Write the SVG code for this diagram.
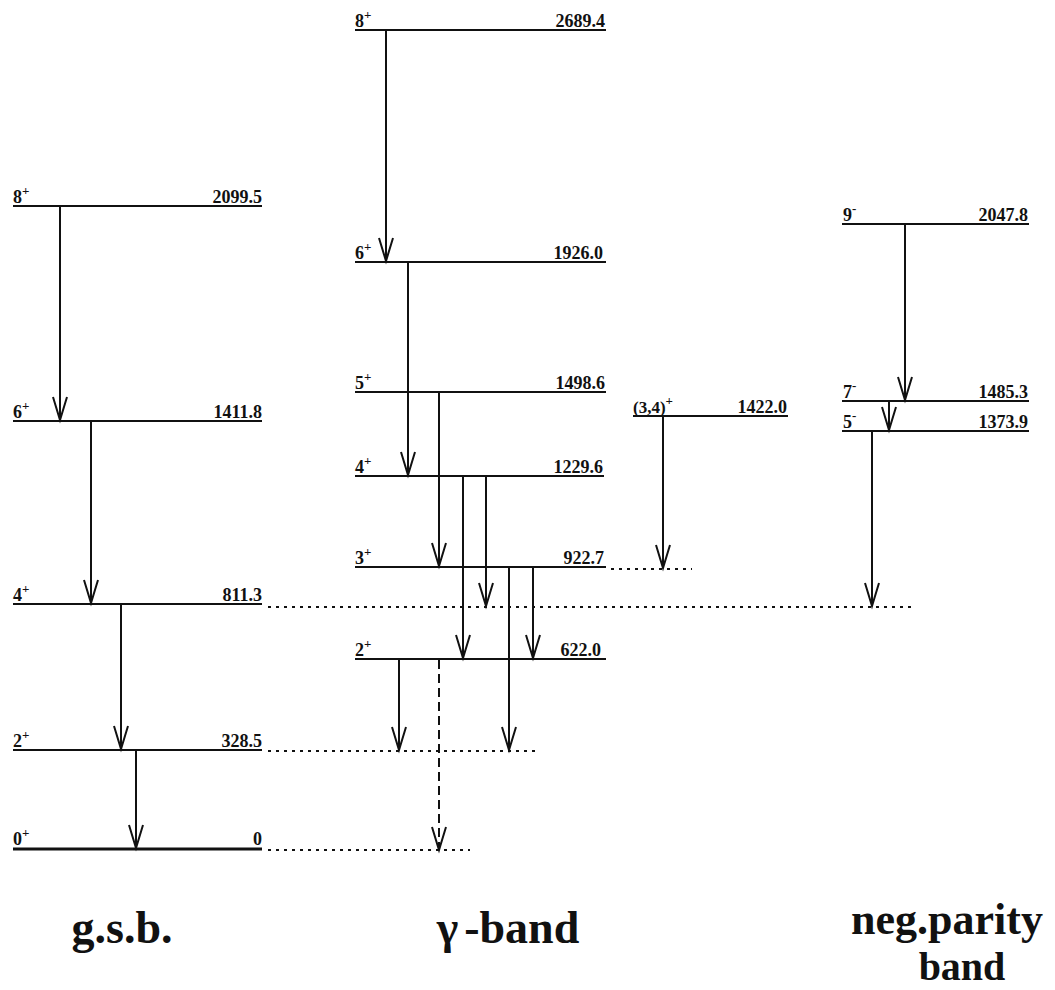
<svg xmlns="http://www.w3.org/2000/svg" width="1055" height="990" viewBox="0 0 1055 990">
<style>
.lvl{stroke:#111;stroke-width:2;fill:none}
.g0{stroke:#111;stroke-width:3;fill:none}
.dot{stroke:#111;stroke-width:2;stroke-dasharray:3 5;fill:none}
.arr{stroke:#111;stroke-width:2;fill:none;marker-end:url(#ah)}
.dash{stroke:#111;stroke-width:2;stroke-dasharray:9 5;fill:none;marker-end:url(#ah)}
text{font-family:"Liberation Serif","Times New Roman",serif;font-weight:bold;fill:#111}
.j{font-size:18px}
.e{font-size:18px;text-anchor:end}
.sup{font-size:13px}
.band{font-size:46px;text-anchor:middle}
</style>
<defs>
<marker id="ah" markerUnits="userSpaceOnUse" markerWidth="20" markerHeight="30" viewBox="-10 -26 20 28" refX="0" refY="0" orient="auto" overflow="visible">
<path d="M-7,-23 L0,0 L7,-23" fill="none" stroke="#111" stroke-width="2" transform="rotate(-90)"/>
</marker>
</defs>
<rect width="1055" height="990" fill="#fff"/>
<g id="gsb">
<g id="gsb8"><line class="lvl" x1="13" y1="206" x2="262" y2="206"/><text class="j" x="13" y="203">8<tspan class="sup" dy="-8">+</tspan></text><text class="e" x="262" y="203">2099.5</text></g>
<g id="gsb6"><line class="lvl" x1="13" y1="421" x2="262" y2="421"/><text class="j" x="13" y="418">6<tspan class="sup" dy="-8">+</tspan></text><text class="e" x="262" y="418">1411.8</text></g>
<g id="gsb4"><line class="lvl" x1="13" y1="604" x2="262" y2="604"/><text class="j" x="13" y="601">4<tspan class="sup" dy="-8">+</tspan></text><text class="e" x="262" y="601">811.3</text></g>
<g id="gsb2"><line class="lvl" x1="13" y1="750" x2="262" y2="750"/><text class="j" x="13" y="747">2<tspan class="sup" dy="-8">+</tspan></text><text class="e" x="262" y="747">328.5</text></g>
<g id="gsb0"><line class="g0" x1="13" y1="849" x2="262" y2="849"/><text class="j" x="13" y="845">0<tspan class="sup" dy="-8">+</tspan></text><text class="e" x="262" y="845">0</text></g>
</g>
<g id="gamma">
<g id="g8"><line class="lvl" x1="355" y1="30" x2="606" y2="30"/><text class="j" x="355" y="27">8<tspan class="sup" dy="-8">+</tspan></text><text class="e" x="605" y="27">2689.4</text></g>
<g id="g6"><line class="lvl" x1="355" y1="262" x2="606" y2="262"/><text class="j" x="355" y="259">6<tspan class="sup" dy="-8">+</tspan></text><text class="e" x="603" y="259">1926.0</text></g>
<g id="g5"><line class="lvl" x1="355" y1="392" x2="606" y2="392"/><text class="j" x="355" y="389">5<tspan class="sup" dy="-8">+</tspan></text><text class="e" x="605" y="389">1498.6</text></g>
<g id="g4"><line class="lvl" x1="355" y1="476" x2="604" y2="476"/><text class="j" x="355" y="473">4<tspan class="sup" dy="-8">+</tspan></text><text class="e" x="603" y="473">1229.6</text></g>
<g id="g3"><line class="lvl" x1="355" y1="567" x2="606" y2="567"/><text class="j" x="355" y="564">3<tspan class="sup" dy="-8">+</tspan></text><text class="e" x="604" y="564">922.7</text></g>
<g id="g2"><line class="lvl" x1="355" y1="659" x2="606" y2="659"/><text class="j" x="355" y="656">2<tspan class="sup" dy="-8">+</tspan></text><text class="e" x="601" y="656">622.0</text></g>
</g>
<g id="side34"><line class="lvl" x1="633" y1="416" x2="788" y2="416"/><text class="j" x="633" y="413" style="font-size:17px">(3,4)<tspan class="sup" dy="-8">+</tspan></text><text class="e" x="787" y="413">1422.0</text></g>
<g id="neg">
<g id="n9"><line class="lvl" x1="842" y1="224" x2="1029" y2="224"/><text class="j" x="843" y="221">9<tspan class="sup" dy="-8">-</tspan></text><text class="e" x="1028" y="221">2047.8</text></g>
<g id="n7"><line class="lvl" x1="842" y1="401" x2="1029" y2="401"/><text class="j" x="843" y="398">7<tspan class="sup" dy="-8">-</tspan></text><text class="e" x="1028" y="398">1485.3</text></g>
<g id="n5"><line class="lvl" x1="842" y1="431" x2="1029" y2="431"/><text class="j" x="843" y="428">5<tspan class="sup" dy="-8">-</tspan></text><text class="e" x="1028" y="428">1373.9</text></g>
</g>
<g id="connectors">
<line class="dot" x1="268" y1="607" x2="915" y2="607"/>
<line class="dot" x1="268" y1="751" x2="540" y2="751"/>
<line class="dot" x1="268" y1="850" x2="470" y2="850"/>
<line class="dot" x1="611" y1="569" x2="692" y2="569"/>
<line class="arr" x1="60" y1="206" x2="60" y2="420"/>
<line class="arr" x1="91" y1="421" x2="91" y2="603"/>
<line class="arr" x1="121" y1="604" x2="121" y2="749"/>
<line class="arr" x1="136" y1="750" x2="136" y2="848"/>
<line class="arr" x1="386" y1="30" x2="386" y2="261"/>
<line class="arr" x1="408" y1="262" x2="408" y2="475"/>
<line class="arr" x1="439" y1="392" x2="439" y2="566"/>
<line class="arr" x1="463" y1="476" x2="463" y2="658"/>
<line class="arr" x1="486" y1="476" x2="486" y2="606"/>
<line class="arr" x1="509" y1="567" x2="509" y2="750"/>
<line class="arr" x1="533" y1="567" x2="533" y2="658"/>
<line class="arr" x1="399" y1="659" x2="399" y2="750"/>
<line class="dash" x1="439" y1="660" x2="439" y2="850"/>
<line class="arr" x1="663" y1="416" x2="663" y2="568"/>
<line class="arr" x1="905" y1="224" x2="905" y2="400"/>
<line class="arr" x1="889" y1="401" x2="889" y2="430"/>
<line class="arr" x1="872" y1="431" x2="872" y2="606"/>
</g>
<g id="labels">
<text class="band" x="122" y="943">g.s.b.</text>
<text class="band" x="508" y="943">γ<tspan dx="6">-band</tspan></text>
<text class="band" x="947" y="934" style="font-size:44px">neg.parity</text>
<text class="band" x="962" y="980" style="font-size:40px">band</text>
</g>
</svg>
